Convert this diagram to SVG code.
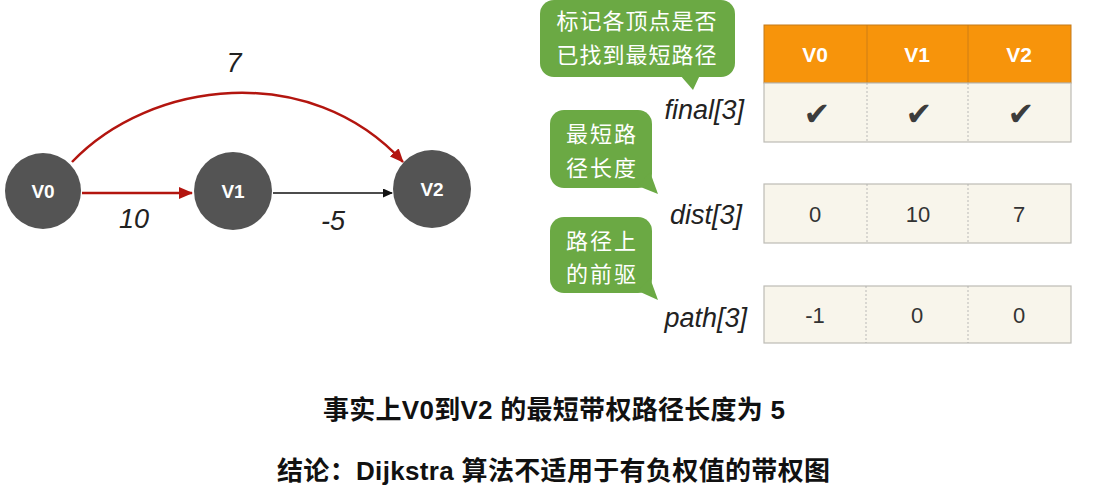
<svg xmlns="http://www.w3.org/2000/svg" width="1116" height="492" viewBox="0 0 1116 492">
<style>
.node{fill:#545454}
.nlab{font-family:"Liberation Sans",Arial,sans-serif;font-weight:bold;font-size:19px;fill:#fff;text-anchor:middle}
.elab{font-family:"Liberation Sans",Arial,sans-serif;font-style:italic;font-size:27px;fill:#222;text-anchor:middle}
.red{stroke:#B3150F;stroke-width:2.5;fill:none}
.blk{stroke:#111;stroke-width:1.3;fill:none}
.bub{fill:#6BA944}
.btxt{font-family:"Noto Sans CJK SC","Noto Sans",sans-serif;font-size:22px;fill:#fff;text-anchor:middle}
.arr{font-family:"Liberation Sans",Arial,sans-serif;font-style:italic;font-size:27px;fill:#222;text-anchor:end}
.hdr{fill:#F7940B;stroke:#C47A1A;stroke-width:1}
.cell{fill:#F8F5EB;stroke:#BDBBB5;stroke-width:1.2}
.div{stroke:#AAA;stroke-width:0.8;stroke-dasharray:2,2}
.htxt{font-family:"Liberation Sans",Arial,sans-serif;font-weight:bold;font-size:21px;fill:#fff;text-anchor:middle}
.ctxt{font-family:"Liberation Sans",Arial,sans-serif;font-size:22px;fill:#333;text-anchor:middle}
.chk{font-family:"DejaVu Sans",sans-serif;font-size:32px;fill:#3c3c3c;text-anchor:middle}
.btm{font-family:"Liberation Sans","Noto Sans CJK SC",sans-serif;font-weight:bold;font-size:26px;fill:#111}
</style>
<defs>
<marker id="mr" markerWidth="14" markerHeight="12" refX="13" refY="6" orient="auto" markerUnits="userSpaceOnUse"><path d="M0,0 L14,6 L0,12 Z" fill="#B3150F"/></marker>
<marker id="mb" markerWidth="10" markerHeight="9" refX="9" refY="4.5" orient="auto" markerUnits="userSpaceOnUse"><path d="M0,0 L10,4.5 L0,9 Z" fill="#111"/></marker>
</defs>
<rect width="1116" height="492" fill="#fff"/>
<g id="connectors">
<path class="red" d="M72,162 C150,80 310,60 403,162" marker-end="url(#mr)"/>
<line class="red" x1="82" y1="193" x2="192" y2="193" marker-end="url(#mr)"/>
<line class="blk" x1="273" y1="193" x2="392" y2="193" marker-end="url(#mb)"/>
<text class="elab" x="234" y="72">7</text>
<text class="elab" x="134" y="228">10</text>
<text class="elab" x="333" y="230">-5</text>
</g>
<g id="V0"><circle class="node" cx="43" cy="191" r="38"/><text class="nlab" x="43" y="198">V0</text></g>
<g id="V1"><circle class="node" cx="233" cy="191" r="39"/><text class="nlab" x="233" y="198">V1</text></g>
<g id="V2"><circle class="node" cx="432" cy="189" r="39"/><text class="nlab" x="432" y="196">V2</text></g>
<g id="bubble1">
<rect class="bub" x="540" y="0" width="195" height="77" rx="14"/>
<path class="bub" d="M680,75 L693,90 L700,75 Z"/>
<text class="btxt" x="637" y="29" letter-spacing="1">标记各顶点是否</text>
<text class="btxt" x="637" y="63" letter-spacing="1">已找到最短路径</text>
</g>
<g id="bubble2">
<rect class="bub" x="550" y="110" width="102" height="78" rx="14"/>
<path class="bub" d="M638,186 L658,194 L650,172 Z"/>
<text class="btxt" x="602" y="142" letter-spacing="2">最短路</text>
<text class="btxt" x="602" y="176" letter-spacing="2">径长度</text>
</g>
<g id="bubble3">
<rect class="bub" x="550" y="217" width="102" height="76" rx="14"/>
<path class="bub" d="M638,291 L658,300 L650,278 Z"/>
<text class="btxt" x="602" y="249" letter-spacing="2">路径上</text>
<text class="btxt" x="602" y="282" letter-spacing="2">的前驱</text>
</g>
<g id="labels">
<text class="arr" x="744" y="119">final[3]</text>
<text class="arr" x="742" y="224">dist[3]</text>
<text class="arr" x="747" y="327">path[3]</text>
</g>
<g id="final-table">
<rect class="hdr" x="764" y="25" width="307" height="58"/>
<line x1="867" y1="25" x2="867" y2="83" stroke="#C47A1A" stroke-width="0.8"/>
<line x1="968" y1="25" x2="968" y2="83" stroke="#C47A1A" stroke-width="0.8"/>
<text class="htxt" x="815" y="62">V0</text>
<text class="htxt" x="917" y="62">V1</text>
<text class="htxt" x="1019" y="62">V2</text>
<rect class="cell" x="764" y="83" width="307" height="59"/>
<line class="div" x1="867" y1="83" x2="867" y2="142"/>
<line class="div" x1="968" y1="83" x2="968" y2="142"/>
<text class="chk" x="817" y="125">✔</text>
<text class="chk" x="919" y="125">✔</text>
<text class="chk" x="1021" y="125">✔</text>
</g>
<g id="dist-table">
<rect class="cell" x="764" y="184" width="307" height="59"/>
<line class="div" x1="867" y1="184" x2="867" y2="243"/>
<line class="div" x1="968" y1="184" x2="968" y2="243"/>
<text class="ctxt" x="815" y="222">0</text>
<text class="ctxt" x="918" y="222">10</text>
<text class="ctxt" x="1019" y="222">7</text>
</g>
<g id="path-table">
<rect class="cell" x="764" y="286" width="307" height="57"/>
<line class="div" x1="866" y1="286" x2="866" y2="343"/>
<line class="div" x1="968" y1="286" x2="968" y2="343"/>
<text class="ctxt" x="815" y="323">-1</text>
<text class="ctxt" x="917" y="323">0</text>
<text class="ctxt" x="1019" y="323">0</text>
</g>
<g id="notes">
<text class="btm" x="323" y="419" textLength="462" lengthAdjust="spacing">事实上V0到V2 的最短带权路径长度为 5</text>
<text class="btm" x="277" y="480" textLength="553" lengthAdjust="spacing">结论：Dijkstra 算法不适用于有负权值的带权图</text>
</g>
</svg>
